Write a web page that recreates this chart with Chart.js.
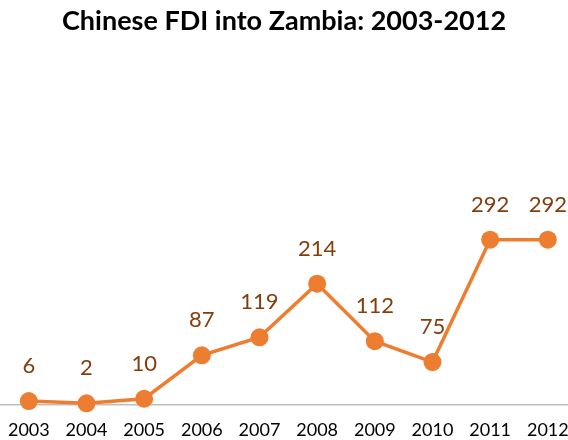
<!DOCTYPE html>
<html>
<head>
<meta charset="utf-8">
<script src="https://cdn.jsdelivr.net/npm/chart.js@4"></script>
<style>
  html, body { margin: 0; padding: 0; background: #fff; overflow: hidden; }
  #wrap { width: 568px; height: 440px; }
</style>
</head>
<body>
<div id="wrap"><canvas id="fdiChart" width="568" height="440"></canvas></div>
<script>
// Chart data
const years = ['2003', '2004', '2005', '2006', '2007', '2008', '2009', '2010', '2011', '2012'];
const fdiValues = [6, 2, 10, 87, 119, 214, 112, 75, 292, 292];

const lineColor = '#ED7D31';
const labelColor = '#843C0C';

// Draw value labels above each point
const valueLabels = {
    id: 'valueLabels',
    afterDatasetsDraw(chart) {
        const ctx = chart.ctx;
        const meta = chart.getDatasetMeta(0);
        ctx.save();
        ctx.font = '22px Lato';
        ctx.fillStyle = labelColor;
        ctx.textAlign = 'center';
        ctx.textBaseline = 'middle';
        meta.data.forEach((pt, i) => {
            ctx.fillText(String(fdiValues[i]), pt.x, pt.y - 35);
        });
        ctx.restore();
    }
};

new Chart(document.getElementById('fdiChart').getContext('2d'), {
    type: 'line',
    data: {
        datasets: [{
            label: 'Chinese FDI',
            data: fdiValues.map((v, i) => ({ x: i, y: v })),
            borderColor: lineColor,
            backgroundColor: lineColor,
            pointBackgroundColor: lineColor,
            pointBorderColor: lineColor,
            borderWidth: 3.5,
            pointRadius: 9,
            pointBorderWidth: 0,
            tension: 0,
            fill: false,
            clip: false
        }]
    },
    options: {
        responsive: false,
        animation: false,
        layout: { autoPadding: false, padding: { left: 0, right: 0, top: 0, bottom: -16 } },
        plugins: {
            legend: { display: false },
            tooltip: { enabled: false },
            title: {
                display: true,
                text: 'Chinese FDI into Zambia: 2003-2012',
                color: '#000',
                font: { family: 'Lato', size: 27, weight: 'bold' },
                padding: { top: 5, bottom: 10 }
            }
        },
        scales: {
            x: {
                type: 'linear',
                min: -0.5,
                max: 9.35,
                afterBuildTicks(scale) {
                    scale.ticks = years.map((_, i) => ({ value: i }));
                },
                afterFit(scale) {
                    scale.paddingLeft = 0;
                    scale.paddingRight = 0;
                },
                ticks: {
                    autoSkip: false,
                    maxRotation: 0,
                    padding: 15,
                    color: '#000',
                    font: { family: 'Lato', size: 18 },
                    callback: (value) => years[value]
                },
                grid: { display: false, drawTicks: false },
                border: { display: true, color: '#BFBFBF', width: 1.5 }
            },
            y: {
                display: false,
                min: 0,
                max: 633
            }
        }
    },
    plugins: [valueLabels]
});
</script>
</body>
</html>
